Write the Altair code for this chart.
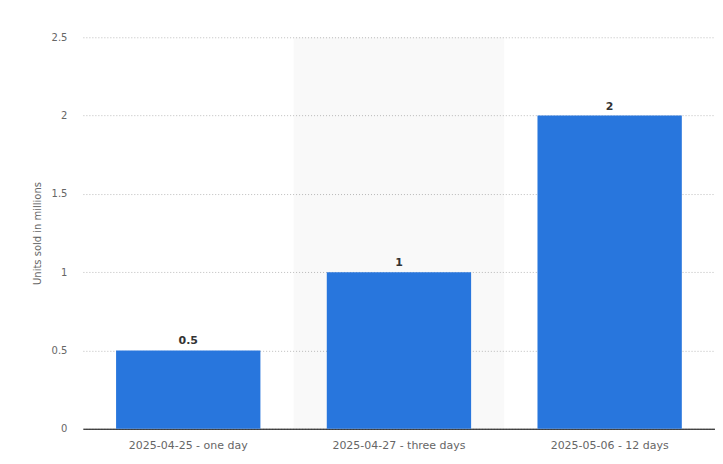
import altair as alt
import pandas as pd

categories = ["2025-04-25 - one day", "2025-04-27 - three days", "2025-05-06 - 12 days"]
values = [0.5, 1, 2]
labels = ["0.5", "1", "2"]
highlight = [0, 1, 0]

df = pd.DataFrame({"cat": categories, "val": values, "lab": labels, "hl": highlight})

FONT = "DejaVu Sans"

x_axis = alt.Axis(labelAngle=0, labelFont=FONT, labelFontSize=11, labelColor="#666666",
                  labelPadding=11, ticks=False, domainColor="#000000", domainWidth=1,
                  grid=False, title=None)
y_axis = alt.Axis(values=[0, 0.5, 1, 1.5, 2, 2.5], format="~g", labelFont=FONT,
                  labelFontSize=10, labelColor="#666666", labelPadding=16, ticks=False,
                  domain=False, gridColor="#bdbdbd", gridDash=[1, 2], gridWidth=1,
                  titleFont=FONT, titleFontSize=10, titleColor="#666666",
                  titleFontWeight="normal", titlePadding=9)
x_scale = alt.Scale(domain=categories, paddingInner=0.315, paddingOuter=0.1575)
y_scale = alt.Scale(domain=[0, 2.5], nice=False)

bg = alt.Chart(df).transform_filter(alt.datum.hl == 1).mark_rect(
    color="#000000", opacity=0.025
).encode(
    x=alt.X("cat:N", sort=categories, axis=None,
            scale=alt.Scale(domain=categories, paddingInner=0, paddingOuter=0)),
    y=alt.value(0),
    y2=alt.value(392),
)

bars = alt.Chart(df).mark_bar(color="#2876dd").encode(
    x=alt.X("cat:N", sort=categories, scale=x_scale, axis=x_axis),
    y=alt.Y("val:Q", title="Units sold in millions", scale=y_scale, axis=y_axis),
)

text = alt.Chart(df).mark_text(
    font=FONT, fontSize=11, fontWeight="bold", color="#333333", dy=-9
).encode(
    x=alt.X("cat:N", sort=categories, scale=x_scale, axis=x_axis),
    y=alt.Y("val:Q", title="Units sold in millions", scale=y_scale, axis=y_axis),
    text="lab:N",
)

main = alt.layer(bars, text)

chart = alt.layer(bg, main).resolve_scale(x="independent").properties(
    width=633, height=392,
    background="#ffffff",
    autosize=alt.AutoSizeParams(type="none"),
    padding={"left": 75, "top": 29, "right": 0, "bottom": 35},
).configure_view(stroke=None)

chart.save("out.html", embed_options={"renderer": "svg", "actions": False})
